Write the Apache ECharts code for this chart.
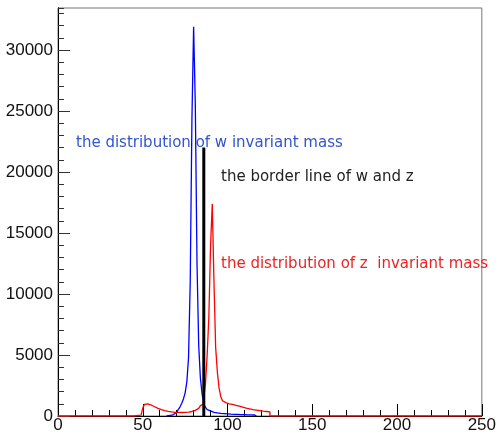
<!DOCTYPE html>
<html lang="en">
<head>
    <meta charset="UTF-8">
    <title>w / z invariant mass</title>
</head>
<body style="margin:0; background:#fff;">
    <div id="main" style="width:499px; height:439px;"></div>
    <script src="https://cdn.jsdelivr.net/npm/echarts@6/dist/echarts.min.js"></script>
    <script>
        // histogram bins are 1 GeV wide, counts start at the given low edge
        var wStart = 64;
        var wCounts = [20, 40, 70, 120, 190, 280, 400, 550, 750, 1050,
            1400, 1900, 2800, 4800, 11000, 24300, 31900, 25500, 12500, 5800,
            3100, 1800, 1000, 700, 520, 420, 350, 300, 270, 250,
            230, 210, 200, 190, 180, 170, 160, 150, 145, 140,
            135, 130, 125, 120, 115, 110, 105, 100, 95, 90,
            85, 80, 70];
        var zStart = 45;
        var zCounts = [40, 50, 60, 70, 90, 650, 950, 1000, 960, 900,
            830, 760, 690, 630, 570, 520, 480, 440, 410, 380,
            360, 340, 320, 305, 295, 290, 285, 285, 290, 295,
            305, 320, 340, 370, 410, 460, 530, 620, 730, 850,
            1000, 1450, 2700, 5000, 8200, 14000, 17400, 11000, 5600, 3600,
            2300, 1600, 1250, 1100, 1050, 1000, 980, 950, 920, 880,
            840, 800, 760, 720, 680, 640, 610, 580, 550, 520,
            500, 480, 460, 440, 420, 400, 380, 370, 360, 340];
        var borderX = 86;
        var borderTop = 22000;
        var xTicks = [0, 250, 50];      // min, max, interval
        var yTicks = [0, 33440, 5000];  // min, max, interval

        // outline of a histogram: both edges of every bin, so the polyline steps
        function histPoints(start, counts) {
            var pts = [[start, 0]];
            for (var i = 0; i < counts.length; i++) {
                pts.push([start + i, counts[i]]);
                pts.push([start + i + 1, counts[i]]);
            }
            pts.push([start + counts.length, 0]);
            return pts;
        }

        var zPts = [[xTicks[0], 0]].concat(histPoints(zStart, zCounts), [[xTicks[1], 0]]);

        var labelFont = 'Liberation Sans, Arial, sans-serif';
        var textFont = '15px "DejaVu Sans"';

        var myChart = echarts.init(document.getElementById('main'));
        var yBase = {
            type: 'value',
            min: yTicks[0],
            max: yTicks[1],
            position: 'left',
            splitLine: { show: false },
            axisLine: { show: true, onZero: false, lineStyle: { color: '#000' } }
        };
        myChart.setOption({
            animation: false,
            grid: {
                left: 58, right: 13, top: 8, bottom: 23,
                show: true, borderColor: '#777', borderWidth: 1, backgroundColor: '#fff'
            },
            xAxis: {
                type: 'value',
                min: xTicks[0],
                max: xTicks[1],
                interval: xTicks[2],
                splitLine: { show: false },
                axisLine: { lineStyle: { color: '#000' } },
                axisTick: { inside: true, length: 12, lineStyle: { color: '#000' } },
                minorTick: { show: true, splitNumber: 5, length: 6, lineStyle: { color: '#000' } },
                axisLabel: {
                    margin: 1, fontSize: 17, color: '#111', fontFamily: labelFont,
                    formatter: function (v) { return String(v); }
                }
            },
            yAxis: [
                Object.assign({}, yBase, {
                    interval: yTicks[2],
                    axisTick: { inside: true, length: 12, lineStyle: { color: '#333' } },
                    axisLabel: {
                        margin: 5, fontSize: 17, color: '#111', fontFamily: labelFont,
                        showMaxLabel: false,
                        formatter: function (v) { return String(v); }
                    }
                }),
                Object.assign({}, yBase, {
                    interval: 1000,
                    axisTick: { inside: true, length: 6, lineStyle: { color: '#333' } },
                    axisLabel: { show: false }
                })
            ],
            series: [
                {
                    name: 'w',
                    type: 'line',
                    showSymbol: false,
                    data: histPoints(wStart, wCounts),
                    lineStyle: { color: '#0000ff', width: 1.3 }
                },
                {
                    name: 'z',
                    type: 'line',
                    showSymbol: false,
                    data: zPts,
                    lineStyle: { color: '#ff0000', width: 1.3 }
                },
                {
                    name: 'border',
                    type: 'line',
                    showSymbol: false,
                    data: [[borderX, 0], [borderX, borderTop]],
                    lineStyle: { color: '#000', width: 3 }
                }
            ],
            graphic: [
                {
                    type: 'text', x: 76, y: 143,
                    style: {
                        text: 'the distribution of w invariant mass', fill: '#3355cc',
                        font: textFont, align: 'left', verticalAlign: 'middle'
                    }
                },
                {
                    type: 'text', x: 221, y: 177,
                    style: {
                        text: 'the border line of w and z', fill: '#222',
                        font: textFont, align: 'left', verticalAlign: 'middle'
                    }
                },
                {
                    type: 'text', x: 221, y: 264,
                    style: {
                        text: 'the distribution of z  invariant mass', fill: '#ee2222',
                        font: textFont, align: 'left', verticalAlign: 'middle'
                    }
                }
            ]
        });
    </script>
</body>
</html>
